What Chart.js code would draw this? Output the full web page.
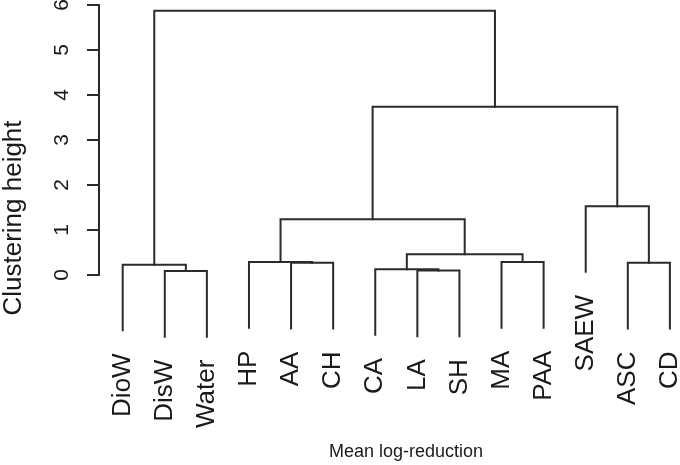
<!DOCTYPE html>
<html>
<head>
<meta charset="utf-8">
<script src="https://cdn.jsdelivr.net/npm/chart.js@4.4.1/dist/chart.umd.min.js"></script>
<style>
  html, body { margin: 0; padding: 0; background: #fff; }
  #wrap { width: 680px; height: 465px; position: relative; }
</style>
</head>
<body>
<div id="wrap"><canvas id="dendro"></canvas></div>
<script>
// Leaves in plotted order (left to right)
const leafLabels = ['DioW', 'DisW', 'Water', 'HP', 'AA', 'CH', 'CA', 'LA', 'SH', 'MA', 'PAA', 'SAEW', 'ASC', 'CD'];

// Merge table, hclust style: negative = leaf position, positive = earlier merge
const mergeLeft   = [-2, -1, -8, -7, -5, -4, -13, -10, 4, 6, -12, 10, 2];
const mergeRight  = [-3, 1, -9, 3, -6, 5, -14, -11, 8, 9, 7, 11, 12];
const mergeHeight = [0.09, 0.23, 0.10, 0.13, 0.27, 0.29, 0.27, 0.29, 0.46, 1.24, 1.53, 3.74, 5.87];

const yTicks = [0, 1, 2, 3, 4, 5, 6];
const hang = 1.46; // leaves hang below their parent merge

const lineColor = '#2b2b2b';
const fontFamily = '"Liberation Sans", Arial, Helvetica, sans-serif';

// Build one ⊓ shaped segment per merge
const nodeX = [];
const leafBottom = [];
const segments = [];

function childPos(ref, parentH) {
    if (ref < 0) {
        const y = parentH - hang;
        leafBottom[-ref - 1] = y;
        return { x: -ref, y: y };
    }
    return { x: nodeX[ref - 1], y: mergeHeight[ref - 1] };
}

mergeHeight.forEach((h, k) => {
    const l = childPos(mergeLeft[k], h);
    const r = childPos(mergeRight[k], h);
    nodeX[k] = (l.x + r.x) / 2;
    segments.push([
        { x: l.x, y: l.y },
        { x: l.x, y: h },
        { x: r.x, y: h },
        { x: r.x, y: r.y }
    ]);
});

// Text drawn with the scales: tick labels, leaf labels, axis titles
const textPlugin = {
    id: 'dendroText',
    afterDraw(chart) {
        const ctx = chart.ctx;
        const xs = chart.scales.x;
        const ys = chart.scales.y;
        ctx.save();
        ctx.fillStyle = '#1a1a1a';

        // y tick labels, rotated like base R
        ctx.font = '21px ' + fontFamily;
        ctx.textAlign = 'center';
        ctx.textBaseline = 'middle';
        yTicks.forEach(v => {
            ctx.save();
            ctx.translate(62, ys.getPixelForValue(v));
            ctx.rotate(-Math.PI / 2);
            ctx.fillText(String(v), 0, 0);
            ctx.restore();
        });

        // leaf labels under each hanging leaf
        ctx.font = '26px ' + fontFamily;
        ctx.textAlign = 'right';
        leafLabels.forEach((lab, i) => {
            ctx.save();
            ctx.translate(xs.getPixelForValue(i + 1), ys.getPixelForValue(leafBottom[i]) + 23);
            ctx.rotate(-Math.PI / 2);
            ctx.fillText(lab, 0, 0);
            ctx.restore();
        });

        // axis titles
        ctx.textAlign = 'center';
        ctx.font = '26px ' + fontFamily;
        ctx.save();
        ctx.translate(14, 218);
        ctx.rotate(-Math.PI / 2);
        ctx.fillText('Clustering height', 0, 0);
        ctx.restore();

        ctx.font = '18px ' + fontFamily;
        ctx.fillText('Mean log-reduction', 406, 452);
        ctx.restore();
    }
};

new Chart(document.getElementById('dendro'), {
    type: 'scatter',
    data: {
        datasets: segments.map(seg => ({
            data: seg,
            showLine: true,
            borderColor: lineColor,
            borderWidth: 2,
            pointRadius: 0,
            tension: 0,
            fill: false,
            clip: false,
            borderCapStyle: 'square',
            borderJoinStyle: 'miter'
        }))
    },
    options: {
        responsive: true,
        maintainAspectRatio: false,
        animation: false,
        layout: { padding: { top: 5, bottom: 190, left: 0, right: 0 } },
        plugins: {
            legend: { display: false },
            tooltip: { enabled: false }
        },
        scales: {
            x: {
                type: 'linear',
                min: 0.437,
                max: 14.24,
                display: false
            },
            y: {
                type: 'linear',
                min: 0,
                max: 6,
                afterBuildTicks: (scale) => {
                    scale.ticks = yTicks.map(v => ({ value: v }));
                },
                afterFit: (scale) => {
                    scale.width = 99;
                },
                ticks: { display: false },
                grid: {
                    drawOnChartArea: false,
                    drawTicks: true,
                    tickLength: 12,
                    color: lineColor,
                    lineWidth: 2
                },
                border: { display: true, color: lineColor, width: 2 }
            }
        }
    },
    plugins: [textPlugin]
});
</script>
</body>
</html>
